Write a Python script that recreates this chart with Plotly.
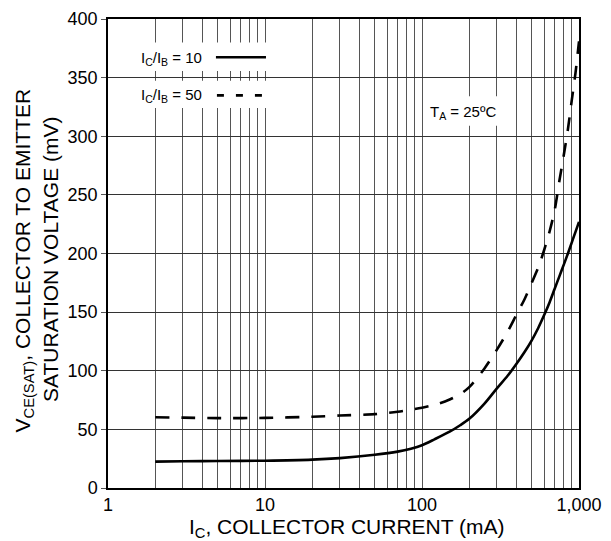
import plotly.graph_objects as go

# ---- data ----
ic_sat10 = [2, 3, 5, 10, 20, 30, 50, 70, 85, 100, 120, 150, 175, 200, 250, 300, 350, 400, 450, 500,
            550, 600, 650, 700, 750, 800, 850, 900, 950, 1000]
vce_sat10 = [22.5, 22.8, 23, 23.3, 24.2, 25.5, 28.3, 31, 33.5, 36.5, 41.5, 48, 53.5, 59, 72, 85, 95.5, 106, 116, 126,
             136.5, 147.5, 158.5, 170, 180.5, 190.5, 200, 209.5, 218.5, 227]

ic_sat50 = [2, 3, 5, 10, 20, 30, 50, 70, 100, 125, 150, 175, 200, 250, 300, 350, 400, 450, 500,
            550, 600, 650, 700, 750, 800, 850, 900, 950, 1000]
vce_sat50 = [60.4, 60, 59.6, 59.8, 60.8, 61.8, 63, 65, 68.5, 71.5, 75.5, 80, 86, 102, 118, 133, 148, 161, 175,
             188, 203, 219, 237, 262, 284, 306, 331, 354, 381]

x_grid_vals = [1, 2, 3, 4, 5, 6, 7, 8, 9, 10, 20, 30, 40, 50, 60, 70, 80, 90,
               100, 200, 300, 400, 500, 600, 700, 800, 900, 1000]
x_tick_text = ["1", "", "", "", "", "", "", "", "", "10", "", "", "", "", "", "", "", "",
               "100", "", "", "", "", "", "", "", "", "1,000"]
y_tick_vals = [0, 50, 100, 150, 200, 250, 300, 350, 400]

FONT = "Arial, Liberation Sans, sans-serif"

fig = go.Figure()
fig.add_trace(go.Scatter(x=ic_sat10, y=vce_sat10, mode="lines",
                         line=dict(color="black", width=2.6, shape="spline", smoothing=0.8),
                         name="IC/IB = 10", showlegend=False))
fig.add_trace(go.Scatter(x=ic_sat50, y=vce_sat50, mode="lines",
                         line=dict(color="black", width=2.6, dash="14px,12px", shape="spline", smoothing=0.8),
                         name="IC/IB = 50", showlegend=False))

fig.update_layout(
    width=611, height=541,
    margin=dict(l=108, r=23, t=9, b=53),
    paper_bgcolor="white", plot_bgcolor="white",
    font=dict(family=FONT, color="black", size=18),
    xaxis=dict(type="log", range=[0, 3], tickvals=x_grid_vals, ticktext=x_tick_text,
               showgrid=True, gridcolor="#555", gridwidth=1,
               showline=True, linecolor="black", linewidth=1.5, mirror=True,
               ticks="", tickfont=dict(size=18)),
    yaxis=dict(range=[0, 400], tickvals=y_tick_vals,
               showgrid=True, gridcolor="#333", gridwidth=1,
               showline=True, linecolor="black", linewidth=1.5, mirror=True,
               ticks="outside", ticklen=5, tickcolor="#555", tickfont=dict(size=18)),
)

def dx(px):
    return (px - 108) / 480

def dy(py):
    return (488 - py) / 479

def ix(px):  # x-axis data value (mA) at a pixel
    return 10 ** ((px - 108) / 160)

def vy(py):  # y-axis data value at a pixel
    return (488 - py) / 479 * 400

# white boxes behind legend entries and temperature note (between grid and traces)
for (x0, x1, y0, y1) in [(133, 275, 33, 62), (133, 275, 72, 100), (432, 512, 88, 118)]:
    fig.add_shape(type="rect", xref="x", yref="y",
                  x0=ix(x0), x1=ix(x1), y0=vy(y1), y1=vy(y0),
                  fillcolor="white", line=dict(width=0), layer="between")

# legend samples
fig.add_shape(type="line", xref="paper", yref="paper", x0=dx(218), x1=dx(269), y0=dy(48), y1=dy(48),
              line=dict(color="black", width=2.6))
fig.add_shape(type="line", xref="paper", yref="paper", x0=dx(219), x1=dx(266), y0=dy(87), y1=dy(87),
              line=dict(color="black", width=2.6, dash="7px,12px"))

fig.add_annotation(xref="paper", yref="paper", x=dx(140), y=dy(49), xanchor="left", yanchor="middle",
                   text="I<sub>C</sub>/I<sub>B</sub> = 10", showarrow=False, font=dict(size=15))
fig.add_annotation(xref="paper", yref="paper", x=dx(140), y=dy(87), xanchor="left", yanchor="middle",
                   text="I<sub>C</sub>/I<sub>B</sub> = 50", showarrow=False, font=dict(size=15))
fig.add_annotation(xref="paper", yref="paper", x=dx(434), y=dy(105), xanchor="left", yanchor="middle",
                   text="T<sub>A</sub> = 25ºC", showarrow=False, font=dict(size=15))

# axis titles
fig.add_annotation(xref="paper", yref="paper", x=dx(352), y=dy(529), xanchor="center", yanchor="middle",
                   text="I<sub>C</sub>, COLLECTOR CURRENT (mA)", showarrow=False, font=dict(size=21))
fig.add_annotation(xref="paper", yref="paper", x=dx(22), y=dy(256), xanchor="center", yanchor="middle",
                   textangle=-90, text="V<sub>CE(SAT)</sub>, COLLECTOR TO EMITTER",
                   showarrow=False, font=dict(size=21))
fig.add_annotation(xref="paper", yref="paper", x=dx(50), y=dy(255), xanchor="center", yanchor="middle",
                   textangle=-90, text="SATURATION VOLTAGE (mV)",
                   showarrow=False, font=dict(size=21))

fig.write_html("out.html", config={"displayModeBar": False},
               post_script="document.body.style.margin='0';")
